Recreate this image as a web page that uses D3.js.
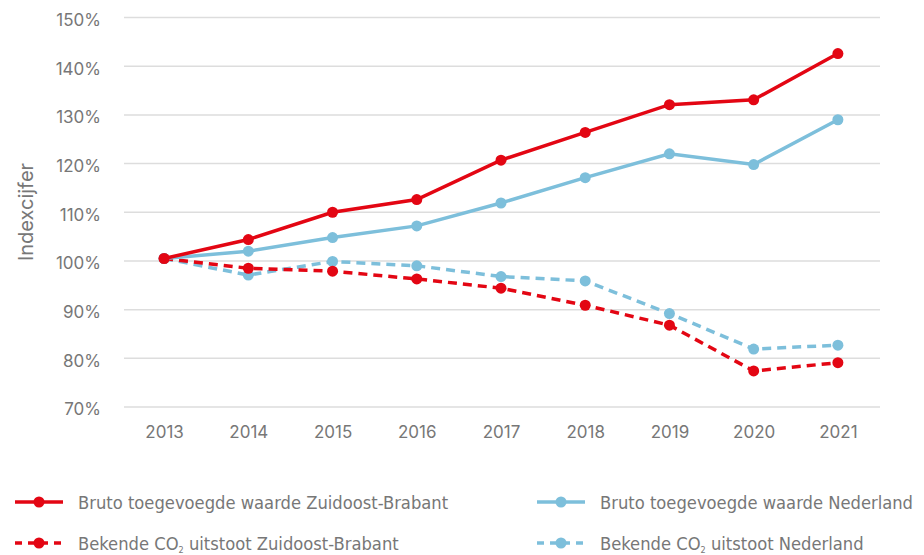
<!DOCTYPE html>
<html>
<head>
<meta charset="utf-8">
<script src="https://cdn.jsdelivr.net/npm/d3@7"></script>
<style>
  html, body { margin: 0; padding: 0; background: #fff; }
  svg { display: block; }
</style>
</head>
<body>
<svg id="chart" width="924" height="555"></svg>
<script>
const years = ["2013","2014","2015","2016","2017","2018","2019","2020","2021"];
const bvZOB  = [100.5, 104.4, 110.0, 112.6, 120.7, 126.4, 132.1, 133.1, 142.6];
const bvNL   = [100.5, 102.0, 104.8, 107.2, 111.9, 117.1, 122.0, 119.8, 129.0];
const co2ZOB = [100.5, 98.5, 97.9, 96.3, 94.4, 90.9, 86.8, 77.4, 79.1];
const co2NL  = [100.5, 97.1, 99.9, 99.0, 96.8, 95.9, 89.2, 81.9, 82.7];
const yTicks = [70, 80, 90, 100, 110, 120, 130, 140, 150];
const seriesNames = [
  "Bruto toegevoegde waarde Zuidoost-Brabant",
  "Bruto toegevoegde waarde Nederland",
  "Bekende CO|2| uitstoot Zuidoost-Brabant",
  "Bekende CO|2| uitstoot Nederland"
];

const RED = "#e30613", BLUE = "#7dbfdb";
const series = [
  {name: seriesNames[0], values: bvZOB, color: RED, dash: null},
  {name: seriesNames[1], values: bvNL, color: BLUE, dash: null},
  {name: seriesNames[2], values: co2ZOB, color: RED, dash: "9,6"},
  {name: seriesNames[3], values: co2NL, color: BLUE, dash: "9,6"}
];

const svg = d3.select("#chart");
const x = d3.scalePoint().domain(years).range([122, 880]).padding(0.5);
const y = d3.scaleLinear().domain([70, 150]).range([407, 17.5]);

// gridlines
svg.append("g").selectAll("line").data(yTicks).join("line")
  .attr("x1", 124).attr("x2", 880)
  .attr("y1", d => y(d)).attr("y2", d => y(d))
  .attr("stroke", "#dddddd").attr("stroke-width", 1.5);

const tickFont = "Inter, 'Noto Sans', sans-serif";

// y axis labels
const yAxis = svg.append("g").attr("transform", "translate(101,2.5)")
  .call(d3.axisLeft(y).tickValues(yTicks).tickFormat(d => d + "%").tickSize(0).tickPadding(0));
yAxis.select(".domain").remove();
yAxis.selectAll("text").attr("font-family", tickFont)
  .attr("font-size", 17).attr("fill", "#777");

// x axis labels
const xAxis = svg.append("g").attr("transform", "translate(0,425.5)")
  .call(d3.axisBottom(x).tickSize(0).tickPadding(0));
xAxis.select(".domain").remove();
xAxis.selectAll("text").attr("font-family", tickFont)
  .attr("font-size", 17).attr("fill", "#777");

// y title
svg.append("text")
  .attr("transform", "translate(33,212) rotate(-90)")
  .attr("text-anchor", "middle")
  .attr("font-family", tickFont)
  .attr("font-size", 20).attr("fill", "#777")
  .text("Indexcijfer");

const line = d3.line().x((d, i) => x(years[i])).y(d => y(d));

// draw order: dashed first, then solid
const order = [3, 2, 1, 0];
order.forEach(k => {
  const s = series[k];
  const g = svg.append("g");
  g.append("path").datum(s.values)
    .attr("d", line).attr("fill", "none")
    .attr("stroke", s.color).attr("stroke-width", 3.5)
    .attr("stroke-dasharray", s.dash);
  g.selectAll("circle").data(s.values).join("circle")
    .attr("cx", (d, i) => x(years[i])).attr("cy", d => y(d))
    .attr("r", 5.5).attr("fill", s.color);
});

// legend
const legendPos = [
  {x: 15, y: 502}, {x: 537, y: 502}, {x: 15, y: 543}, {x: 537, y: 543}
];
series.forEach((s, k) => {
  const p = legendPos[k];
  const g = svg.append("g").attr("transform", `translate(${p.x},${p.y})`);
  g.append("line").attr("x1", 0).attr("x2", 48).attr("y1", 0).attr("y2", 0)
    .attr("stroke", s.color).attr("stroke-width", 3.5)
    .attr("stroke-dasharray", s.dash ? "7,6" : null);
  g.append("circle").attr("cx", 24).attr("cy", 0).attr("r", 5.5).attr("fill", s.color);
  const t = g.append("text").attr("x", 63).attr("y", 7)
    .attr("font-family", "'DejaVu Sans Condensed', 'Liberation Sans Narrow', 'Roboto', sans-serif")
    .attr("font-stretch", "condensed")
    .attr("font-size", 18.2).attr("fill", "#777");
  s.name.split("|").forEach((part, i) => {
    if (i === 1) {
      t.append("tspan").attr("font-size", 9).attr("dy", 2.5).text(part);
    } else if (i === 2) {
      t.append("tspan").attr("dy", -2.5).text(part);
    } else {
      t.append("tspan").text(part);
    }
  });
});
</script>
</body>
</html>
